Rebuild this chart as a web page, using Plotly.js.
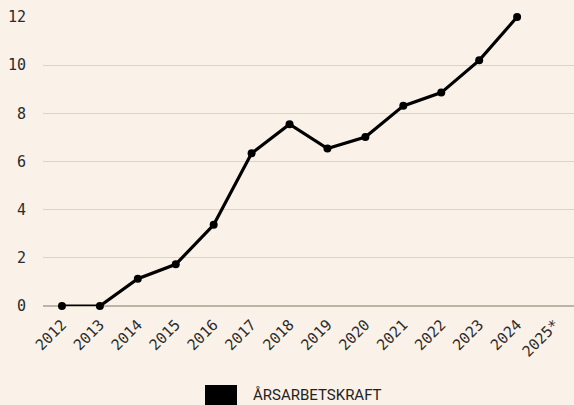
<!DOCTYPE html>
<html>
<head>
<meta charset="utf-8">
<script src="https://cdn.plot.ly/plotly-3.0.1.min.js"></script>
<style>
  html, body { margin: 0; padding: 0; background: #faf2e8; }
  #plot { width: 574px; height: 405px; }
</style>
</head>
<body>
<div id="plot"></div>
<script>
// years on the x axis (2025 is a forecast with no value yet)
let years = ["2012", "2013", "2014", "2015", "2016", "2017", "2018",
             "2019", "2020", "2021", "2022", "2023", "2024", "2025*"];
// annual labour values
let arsarbetskraft = [0, 0, 1.13, 1.73, 3.37, 6.34, 7.55,
                      6.54, 7.02, 8.31, 8.86, 10.2, 12.0, null];
let yTicks = [0, 2, 4, 6, 8, 10, 12];
let legendLabel = "ÅRSARBETSKRAFT";

let trace1 = {
  x: years,
  y: arsarbetskraft,
  type: "scatter",
  mode: "lines+markers",
  line: { color: "#000000", width: 3.2 },
  marker: { color: "#000000", size: 8 },
  cliponaxis: false,
  showlegend: false,
  hoverinfo: "skip"
};

let data = [trace1];

let layout = {
  width: 574,
  height: 405,
  paper_bgcolor: "#faf2e8",
  plot_bgcolor: "#faf2e8",
  margin: { l: 43, r: 0, t: 17, b: 99 },
  font: { family: "DejaVu Sans Mono", size: 15, color: "#2b2b2b" },
  xaxis: {
    type: "category",
    range: [-0.5, 13.5],
    tickangle: -45,
    showgrid: false,
    showline: false,
    zeroline: false,
    ticks: "",
    ticklabelstandoff: 6,
    tickfont: { family: "DejaVu Sans Mono", size: 15, color: "#2b2b2b" }
  },
  yaxis: {
    range: [0, 12],
    tickvals: yTicks,
    ticktext: yTicks.map(String),
    showgrid: true,
    gridcolor: "#ddd4c7",
    gridwidth: 1,
    zeroline: true,
    zerolinecolor: "#bdb4a8",
    zerolinewidth: 2,
    ticks: "",
    ticklabelstandoff: 16,
    tickfont: { family: "DejaVu Sans Mono", size: 15, color: "#2b2b2b" }
  },
  shapes: [{
    type: "rect",
    xref: "paper", yref: "paper",
    x0: (205 - 43) / 531, x1: (237 - 43) / 531,
    y0: (306 - 417) / 289, y1: (306 - 385) / 289,
    fillcolor: "#000000",
    line: { width: 0 }
  }],
  annotations: [{
    xref: "paper", yref: "paper",
    x: (251 - 43) / 531, y: (306 - 395) / 289,
    xanchor: "left", yanchor: "middle",
    text: legendLabel,
    showarrow: false,
    font: { family: "Roboto", size: 15, color: "#222222" }
  }]
};

Plotly.newPlot("plot", data, layout, { displayModeBar: false, staticPlot: true });
</script>
</body>
</html>
